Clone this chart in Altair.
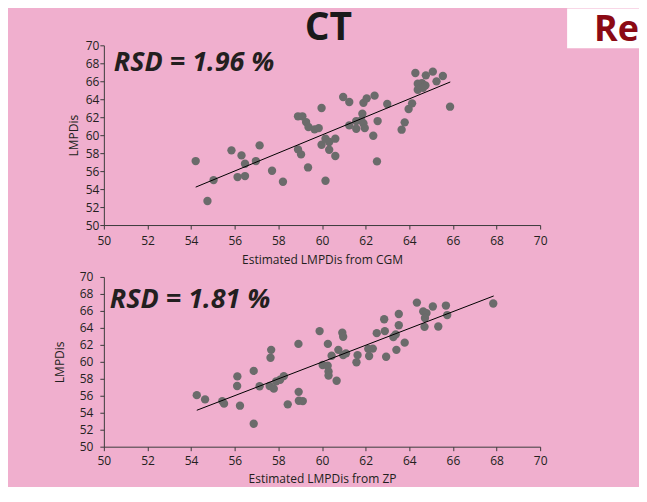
import altair as alt
import pandas as pd

# ---- data ----
cgm_x = [54.21, 54.75, 55.03, 55.85, 56.31, 56.47, 56.13, 56.47, 56.97, 57.14,
         57.71, 58.21, 58.90, 59.04, 59.36, 58.90, 59.10, 59.27, 59.38, 59.66,
         59.85, 59.98, 59.98, 60.16, 60.33, 60.33, 60.61, 60.61, 60.16, 60.97,
         61.25, 61.25, 61.57, 61.57, 61.85, 61.90, 62.05, 62.41, 61.80, 61.90,
         61.96, 62.55, 62.35, 62.52, 62.99, 63.65, 63.79, 63.97, 64.13, 64.28,
         64.76, 65.08, 65.54, 65.25, 64.39, 64.58, 64.74, 64.39, 64.63, 65.87]
cgm_y = [57.12, 52.67, 55.00, 58.31, 57.75, 56.82, 55.34, 55.45, 57.12, 58.86,
         56.04, 54.82, 58.42, 57.86, 56.41, 62.10, 62.10, 61.46, 60.91, 60.65,
         60.79, 63.02, 58.94, 59.61, 59.24, 58.38, 59.61, 57.68, 54.93, 64.25,
         63.69, 61.09, 61.57, 60.72, 62.39, 63.60, 64.10, 64.40, 61.65, 61.30,
         60.79, 61.57, 59.94, 57.08, 63.47, 60.61, 61.43, 62.91, 63.54, 66.92,
         66.66, 67.07, 66.59, 65.99, 65.73, 65.80, 65.54, 65.06, 65.28, 63.17]

zp_x = [54.26, 54.64, 55.43, 55.51, 56.12, 56.11, 56.24, 56.87, 56.87, 57.14,
        57.67, 57.64, 57.60, 57.79, 57.90, 58.08, 58.25, 58.43, 58.92, 58.93,
        58.94, 59.12, 59.89, 60.27, 60.03, 60.26, 60.30, 60.30, 60.44, 60.67,
        60.75, 60.93, 60.97, 60.97, 61.10, 61.58, 61.63, 62.16, 62.12, 62.33,
        62.51, 62.85, 62.88, 62.94, 63.27, 63.38, 63.41, 63.52, 63.52, 63.79,
        64.35, 64.64, 64.79, 64.72, 64.70, 65.08, 65.33, 65.68, 65.74, 67.85]
zp_y = [56.07, 55.57, 55.37, 55.07, 58.28, 57.15, 54.83, 58.93, 52.70, 57.12,
        61.41, 60.48, 57.15, 56.84, 57.70, 57.89, 58.31, 54.99, 62.11, 56.46,
        55.41, 55.37, 63.62, 62.11, 59.63, 59.55, 58.86, 58.39, 60.71, 57.77,
        61.41, 63.42, 62.96, 60.80, 61.00, 59.94, 60.79, 60.68, 61.53, 61.56,
        63.38, 65.01, 63.62, 60.60, 62.92, 63.23, 61.41, 65.63, 64.31, 62.26,
        66.98, 65.94, 65.74, 65.16, 64.12, 66.52, 64.16, 66.63, 65.51, 66.87]

cgm_fit_x = [54.21, 65.88]
cgm_fit_y = [54.22, 65.92]
zp_fit_x = [54.26, 67.87]
zp_fit_y = [54.29, 67.76]

tick_values = list(range(50, 71, 2))

BG = "#F0AFCE"
PT = "#6B6B6B"
INK = "#231F20"
FONT = "Open Sans"
W = 437


def panel(xs, ys, fx, fy, xtitle, rsd, h, rsd_x, rsd_y, rsd_size,
          ylabpad, ytitlepad, xlabpad, xtitlepad, extras=None):
    pts = pd.DataFrame({"x": xs, "y": ys})
    fit = pd.DataFrame({"x": fx, "y": fy})
    xs_ = alt.Scale(domain=[50, 70], nice=False, zero=False)
    ys_ = alt.Scale(domain=[50, 70], nice=False, zero=False)
    xax = alt.Axis(values=tick_values, title=xtitle, labelPadding=xlabpad,
                   titlePadding=xtitlepad, labelFlush=False)
    yax = alt.Axis(values=tick_values, title="LMPDis", labelPadding=ylabpad,
                   titlePadding=ytitlepad, labelFlush=False)
    points = alt.Chart(pts).mark_circle(size=70, color=PT, opacity=1).encode(
        x=alt.X("x:Q", scale=xs_, axis=xax),
        y=alt.Y("y:Q", scale=ys_, axis=yax),
    )
    line = alt.Chart(fit).mark_line(color="black", strokeWidth=1).encode(
        x=alt.X("x:Q", scale=xs_, axis=xax),
        y=alt.Y("y:Q", scale=ys_, axis=yax),
    )
    label = alt.Chart(pd.DataFrame({"t": [rsd]})).mark_text(
        align="left", baseline="alphabetic", font=FONT, fontSize=rsd_size,
        fontWeight="bold", fontStyle="italic", color=INK,
    ).encode(x=alt.value(rsd_x), y=alt.value(rsd_y), text="t:N")
    layers = [points, line, label]
    if extras:
        layers = extras + layers
    return alt.layer(*layers).properties(width=W, height=h)


box = alt.Chart(pd.DataFrame({"a": [0]})).mark_rect(color="white").encode(
    x=alt.value(464), x2=alt.value(536), y=alt.value(-37), y2=alt.value(3)
)
re_text = alt.Chart(pd.DataFrame({"t": ["Re"]})).mark_text(
    align="right", baseline="alphabetic", font=FONT, fontSize=36,
    fontWeight="bold", color="#8B0A14",
).encode(x=alt.value(536), y=alt.value(-4), text="t:N")
ct_text = alt.Chart(pd.DataFrame({"t": ["CT"]})).mark_text(
    align="center", baseline="alphabetic", font=FONT, fontSize=39,
    fontWeight="bold", color="#1A1A1A",
).encode(x=alt.value(225), y=alt.value(-5), text="t:N")

top = panel(cgm_x, cgm_y, cgm_fit_x, cgm_fit_y, "Estimated LMPDis from CGM",
            "RSD = 1.96 %", 180, 10, 26, 27, 1, 5, 6, 9,
            extras=[box, re_text, ct_text])
bottom = panel(zp_x, zp_y, zp_fit_x, zp_fit_y, "Estimated LMPDis from ZP",
               "RSD = 1.81 %", 170, 6, 31, 27, 7, 13, 5, 7)

chart = alt.vconcat(top, bottom, spacing=5).properties(
    background=BG,
    padding={"left": 45, "top": 0, "right": 0, "bottom": 2},
).configure_view(stroke=None).configure_axis(
    grid=False,
    domainColor="#3A3A3A",
    tickColor="#3A3A3A",
    tickSize=4,
    labelFont=FONT,
    labelFontSize=12,
    labelColor=INK,
    titleFont=FONT,
    titleFontSize=12,
    titleFontWeight="normal",
    titleColor=INK,
)

chart.save("out.html", embed_options={"renderer": "svg", "actions": False})
